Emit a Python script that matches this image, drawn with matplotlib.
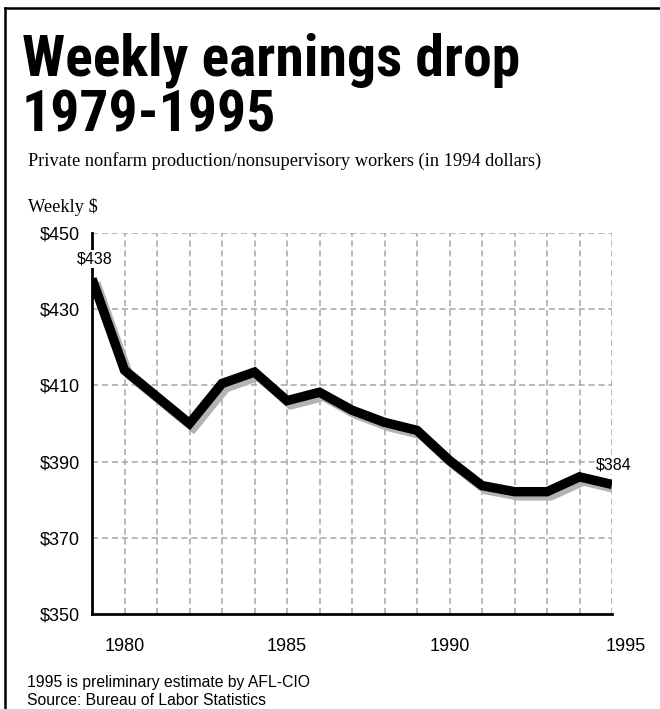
import matplotlib
matplotlib.use("Agg")
import matplotlib.pyplot as plt
import matplotlib.patheffects as pe
from matplotlib import font_manager as fm
from matplotlib.lines import Line2D
from matplotlib.transforms import ScaledTranslation

# Weekly earnings, private nonfarm production workers, 1994 dollars
years = [1979, 1980, 1981, 1982, 1983, 1984, 1985, 1986, 1987,
         1988, 1989, 1990, 1991, 1992, 1993, 1994, 1995]
earnings = [438, 414, 407, 400, 410.5, 413.5, 406, 408.2, 403.5,
            400.3, 398.2, 390.3, 383.7, 382.1, 382.1, 386, 384]

y_ticks = [350, 370, 390, 410, 430, 450]
x_ticks = [1980, 1985, 1990, 1995]

W, H = 660, 709
fig = plt.figure(figsize=(W / 100, H / 100), dpi=100)

def fx(px):
    return px / W

def fy(py):
    return 1 - py / H

sans = ["Liberation Sans", "DejaVu Sans"]
serif = ["Liberation Serif", "DejaVu Serif"]


def is_bold(f):
    w = f.weight
    if isinstance(w, str):
        return w in ("bold", "heavy", "black", "extra bold", "semibold", "demibold")
    return w >= 600


def condensed_bold_font():
    # look for a narrow bold face for the headline
    ranked = []
    for f in fm.fontManager.ttflist:
        name = f.name.lower()
        stretch = str(f.stretch).lower()
        narrow = ("narrow" in name or "condensed" in name
                  or "condensed" in stretch)
        if narrow and is_bold(f) and f.style == "normal":
            score = 0 if "roboto" in name else 1 if "liberation" in name else 2
            ranked.append((score, f.fname))
    if ranked:
        ranked.sort()
        return fm.FontProperties(fname=ranked[0][1])
    return fm.FontProperties(family="Roboto", weight="bold")


head_fp = condensed_bold_font()

# outer frame (left and top rules only)
fig.add_artist(Line2D([fx(5), fx(5)], [0, fy(8)], color="black", lw=1.8))
fig.add_artist(Line2D([fx(5), 1], [fy(8), fy(8)], color="black", lw=1.8))

head_fp.set_size(41.5)
t1 = fig.text(fx(22), fy(75), "Weekly earnings drop", fontproperties=head_fp,
              va="baseline", ha="left")
fig.canvas.draw()
width = t1.get_window_extent().width
size = min(41.5, 41.5 * 510 / width)
head_fp.set_size(size)
t1.set_fontproperties(head_fp)
fig.text(fx(22), fy(132), "1979-1995", fontproperties=head_fp,
         va="baseline", ha="left")

fig.text(fx(28), fy(166),
         "Private nonfarm production/nonsupervisory workers (in 1994 dollars)",
         family=serif, fontsize=13.2, va="baseline", ha="left")
fig.text(fx(28), fy(212), "Weekly $", family=serif, fontsize=13.2,
         va="baseline", ha="left")

ax = fig.add_axes([fx(92), fy(614), fx(612) - fx(92), fy(233) - fy(614)])
ax.set_xlim(1979, 1995)
ax.set_ylim(350, 450)

# dashed grid
for v in y_ticks[1:]:
    ax.axhline(v, color="#a6a6a6", lw=1.1, dashes=(4, 2.5), zorder=1)
for yr in range(1980, 1996):
    ax.axvline(yr, color="#a6a6a6", lw=1.1, dashes=(4, 2.5), zorder=1)

ax.plot(years, earnings, color="black", lw=6.8, zorder=3,
        solid_joinstyle="miter", solid_capstyle="butt",
        path_effects=[pe.SimpleLineShadow(offset=(2.8, -3),
                                          shadow_color="#b3b3b3", alpha=1,
                                          rho=1),
                      pe.Normal()])

for spine in ["top", "right"]:
    ax.spines[spine].set_visible(False)
for spine in ["left", "bottom"]:
    ax.spines[spine].set_linewidth(2)
    ax.spines[spine].set_zorder(2.5)

ax.set_yticks(y_ticks)
ax.set_yticklabels([f"${v}" for v in y_ticks], family=sans, fontsize=13)
ax.set_xticks(x_ticks)
ax.set_xticklabels([str(v) for v in x_ticks], family=sans, fontsize=13)
ax.tick_params(axis="y", length=0, pad=8.6)
ax.tick_params(axis="x", length=0, pad=17)
# last year label sits a little right of its gridline
last = ax.get_xticklabels()[-1]
last.set_transform(last.get_transform()
                   + ScaledTranslation(10 / 72, 0, fig.dpi_scale_trans))

# end-point value labels
box = dict(facecolor="white", edgecolor="none", pad=1)
ax.annotate(f"${earnings[0]}", (years[0], earnings[0]),
            xytext=(2.2, 14.4), textcoords="offset points",
            ha="center", va="center", family=sans, fontsize=11.5,
            bbox=box, zorder=4, annotation_clip=False)
ax.annotate(f"${earnings[-1]}", (years[-1], earnings[-1]),
            xytext=(1.4, 14), textcoords="offset points",
            ha="center", va="center", family=sans, fontsize=11.5,
            bbox=box, zorder=4, annotation_clip=False)

fig.text(fx(27), fy(687), "1995 is preliminary estimate by AFL-CIO",
         family=sans, fontsize=11.3, va="baseline", ha="left")
fig.text(fx(27), fy(705), "Source: Bureau of Labor Statistics",
         family=sans, fontsize=11.3, va="baseline", ha="left")

fig.savefig("out.png", dpi=100)
